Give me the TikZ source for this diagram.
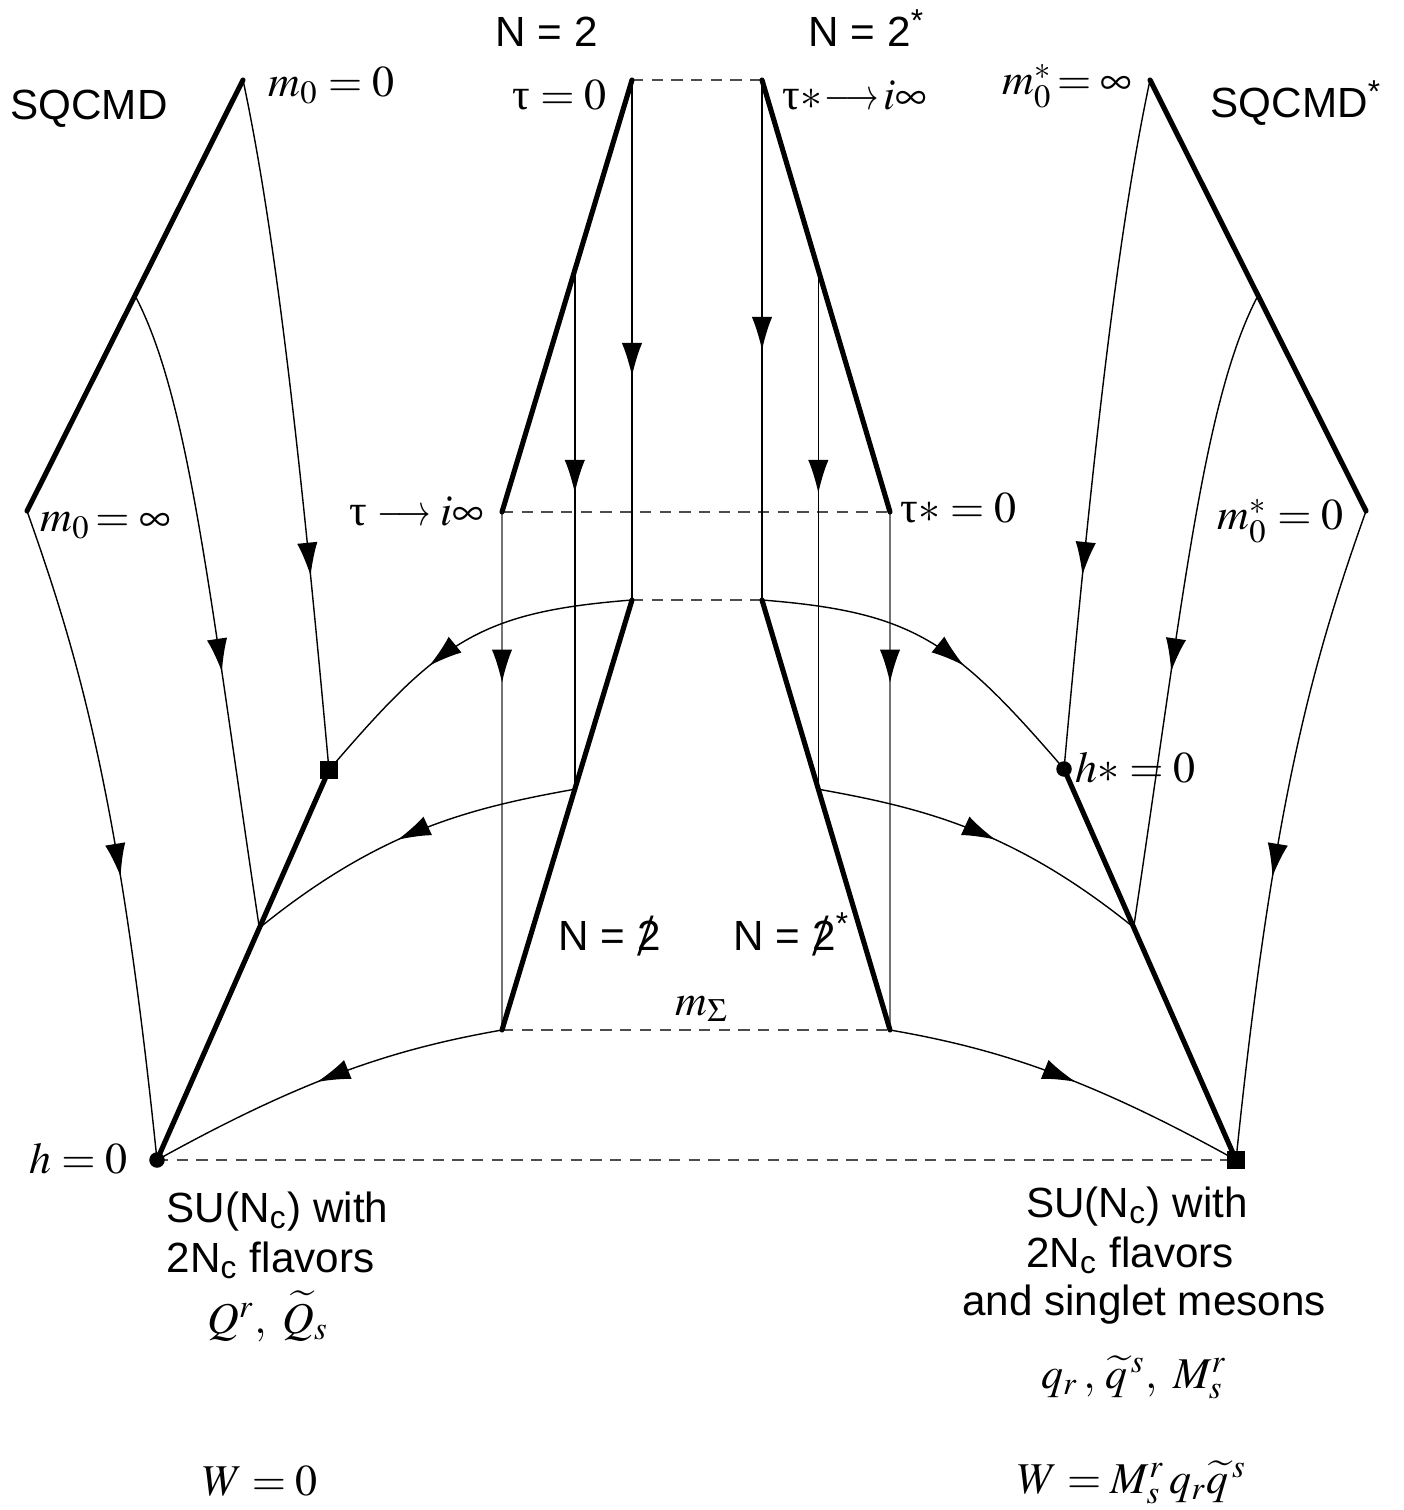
\documentclass[tikz,border=0pt]{standalone}
\usepackage{graphicx}
\usepackage{mathptmx}
\usepackage{fontspec}
\setmainfont{Liberation Serif}
\setsansfont{Liberation Sans}
\newfontfamily\serifgr{Liberation Serif}
\usetikzlibrary{arrows.meta,decorations.markings,calc}
\newcommand{\uptauX}{\mbox{\serifgr τ}}
\newcommand{\slashtwo}{\makebox[0pt][l]{\hspace{0.0em}\raisebox{-0.12em}{\fontsize{17}{17}\selectfont\serifgr /}}2}
\newcommand{\shortlongarrow}{\mathrel{\scalebox{0.76}[1]{$\longrightarrow$}}}
\begin{document}
\begin{tikzpicture}[x=0.01cm,y=-0.01cm,
  thickline/.style={line width=1.45pt, line cap=round, line join=round},
  thinline/.style={line width=0.4pt},
  grayline/.style={line width=0.4pt, black!55},
  dashline/.style={line width=0.4pt, black!70, dash pattern=on 3.2pt off 2.4pt},
  flow/.style={postaction={decorate}, decoration={markings, mark=at position #1 with {\arrow{Latex[length=9.5pt,width=5.8pt,color=black]}}}},
  lbl/.style={inner sep=0pt, font=\fontsize{12.5}{15}\selectfont},
  slbl/.style={inner sep=0pt, font=\sffamily\fontsize{12}{14}\selectfont},
  sqmark/.style={rectangle, fill=black, inner sep=0pt, minimum size=0.175cm},
  dotmark/.style={circle, fill=black, inner sep=0pt, minimum size=0.155cm}
]
\useasboundingbox (0,0) rectangle (1403,1510);

% key points, left
\coordinate (L1) at (243,80);
\coordinate (L2) at (27,511);
\coordinate (Lj) at ($(L1)!0.5!(L2)$);
\coordinate (LsqP) at (329,770);
\coordinate (LdotP) at (157,1160);
\coordinate (Ljl) at ($(LsqP)!0.405!(LdotP)$);
% middle
\coordinate (M1) at (632,80);
\coordinate (M2) at (502,512);
\coordinate (M3) at (632,600);
\coordinate (M4) at (502,1030);
\coordinate (Ma) at ($(M1)!0.44!(M2)$);
\coordinate (Mb) at ($(M3)!0.44!(M4)$);
\coordinate (N1) at (762,80);
\coordinate (N2) at (890,512);
\coordinate (N3) at (762,600);
\coordinate (N4) at (890,1030);
\coordinate (Na) at ($(N1)!0.44!(N2)$);
\coordinate (Nb) at ($(N3)!0.44!(N4)$);
% right
\coordinate (R1) at (1150,80);
\coordinate (R2) at (1366,511);
\coordinate (Rj) at ($(R1)!0.5!(R2)$);
\coordinate (RdotP) at (1064,769);
\coordinate (RsqP) at (1236,1160);
\coordinate (Rjl) at ($(RdotP)!0.405!(RsqP)$);

% dashed
\draw[dashline] (M1) -- (N1);
\draw[dashline] (M2) -- (N2);
\draw[dashline] (M3) -- (N3);
\draw[dashline] (M4) -- (N4);
\draw[dashline] (LdotP) -- (RsqP);

% thin flow lines, middle
\draw[thinline, flow=0.57] (M1) -- (M3);
\draw[thinline, flow=0.52] (N1) -- (N3);
\draw[thinline, flow=0.43] (Ma) -- (Mb);
\draw[thinline, flow=0.43] (Na) -- (Nb);
\draw[grayline, flow=0.33] (M2) -- (M4);
\draw[grayline, flow=0.33] (N2) -- (N4);

% thin flow curves, left
\draw[thinline, flow=0.72] (L1) .. controls (275,230) and (300,450) .. (LsqP);
\draw[thinline, flow=0.6] (Lj) .. controls (190,400) and (210,600) .. (Ljl);
\draw[thinline, flow=0.57] (L2) .. controls (80,660) and (120,800) .. (LdotP);
\draw[thinline, flow=0.6] (M3) .. controls (480,612) and (440,640) .. (LsqP);
\draw[thinline, flow=0.53] (Mb) .. controls (470,808) and (380,830) .. (Ljl);
\draw[thinline, flow=0.52] (M4) .. controls (400,1048) and (310,1075) .. (LdotP);

% thin flow curves, right
\draw[thinline, flow=0.72] (R1) .. controls (1118,230) and (1093,450) .. (RdotP);
\draw[thinline, flow=0.6] (Rj) .. controls (1203,400) and (1183,600) .. (Rjl);
\draw[thinline, flow=0.57] (R2) .. controls (1313,660) and (1273,800) .. (RsqP);
\draw[thinline, flow=0.6] (N3) .. controls (913,612) and (953,640) .. (RdotP);
\draw[thinline, flow=0.53] (Nb) .. controls (923,808) and (1013,830) .. (Rjl);
\draw[thinline, flow=0.52] (N4) .. controls (993,1048) and (1083,1075) .. (RsqP);

% thick lines
\draw[thickline] (L1) -- (L2);
\draw[thickline] (LsqP) -- (LdotP);
\draw[thickline] (M1) -- (M2);
\draw[thickline] (M3) -- (M4);
\draw[thickline] (N1) -- (N2);
\draw[thickline] (N3) -- (N4);
\draw[thickline] (R1) -- (R2);
\draw[thickline] (RdotP) -- (RsqP);

% markers
\node[sqmark] (Lsq) at (LsqP) {};
\node[dotmark] (Ldot) at (LdotP) {};
\node[dotmark] (Rdot) at (RdotP) {};
\node[sqmark] (Rsq) at (RsqP) {};

% labels top
\node[slbl, anchor=base] (tSQ) at (89,120) {SQCMD};
\node[lbl, anchor=base west] (tm00) at (268,97) {$m_0=0$};
\node[slbl, anchor=base west] (tN2) at (495,47) {N = 2};
\node[slbl, anchor=base west] (tN2s) at (808,47) {N = 2\textsuperscript{*}};
\node[lbl, anchor=base east] (tt0) at (607,110) {\uptauX${}=0$};
\node[lbl, anchor=base west] (tts) at (782,110) {\uptauX${\ast}\mkern-3mu\shortlongarrow\mkern-2mu i\infty$};
\node[lbl, anchor=base east] (tm0si) at (1133,95) {$m_0^{*}\!=\infty$};
\node[slbl, anchor=base west] (tSQs) at (1210,118) {SQCMD\textsuperscript{*}};
% labels middle
\node[lbl, anchor=base west] (tm0i) at (40,532) {$m_0\!=\infty$};
\node[lbl, anchor=base east] (tti) at (485,526) {\uptauX$\;\shortlongarrow i\infty$};
\node[lbl, anchor=base west] (tts0) at (900,523) {\uptauX${\ast}=0$};
\node[lbl, anchor=base west] (tm0s0) at (1217,530) {$m_0^{*}=0$};
\node[lbl, anchor=base west] (ths) at (1075,782) {$h{\ast}=0$};
\node[slbl, anchor=base west] (tN1) at (558,950) {N = \slashtwo};
\node[slbl, anchor=base west] (tN1s) at (733,950) {N = \slashtwo\textsuperscript{*}};
\node[lbl, anchor=base west] (tms) at (675,1015) {$m_\Sigma$};
\node[lbl, anchor=base east] (th0) at (128,1173) {$h=0$};
% bottom left block
\node[slbl, anchor=base west] (bl1) at (166,1222) {SU(N\textsubscript{c}) with};
\node[slbl, anchor=base west] (bl2) at (166,1272) {2N\textsubscript{c} flavors};
\node[lbl, anchor=base] (bl3) at (268,1333) {$Q^r,\ \widetilde{Q}_s$};
\node[lbl, anchor=base] (bl4) at (260,1495) {$W=0$};
% bottom right block
\node[slbl, anchor=base] (br1) at (1137,1217) {SU(N\textsubscript{c}) with};
\node[slbl, anchor=base] (br2) at (1130,1267) {2N\textsubscript{c} flavors};
\node[slbl, anchor=base] (br3) at (1144,1315) {and singlet mesons};
\node[lbl, anchor=base] (br4) at (1134,1388) {$q_r\,,\,\widetilde{q}^{\,s},\ M^r_s$};
\node[lbl, anchor=base] (br5) at (1132,1493) {$W=M^r_s\,q_r\widetilde{q}^{\,s}$};
\end{tikzpicture}
\end{document}
